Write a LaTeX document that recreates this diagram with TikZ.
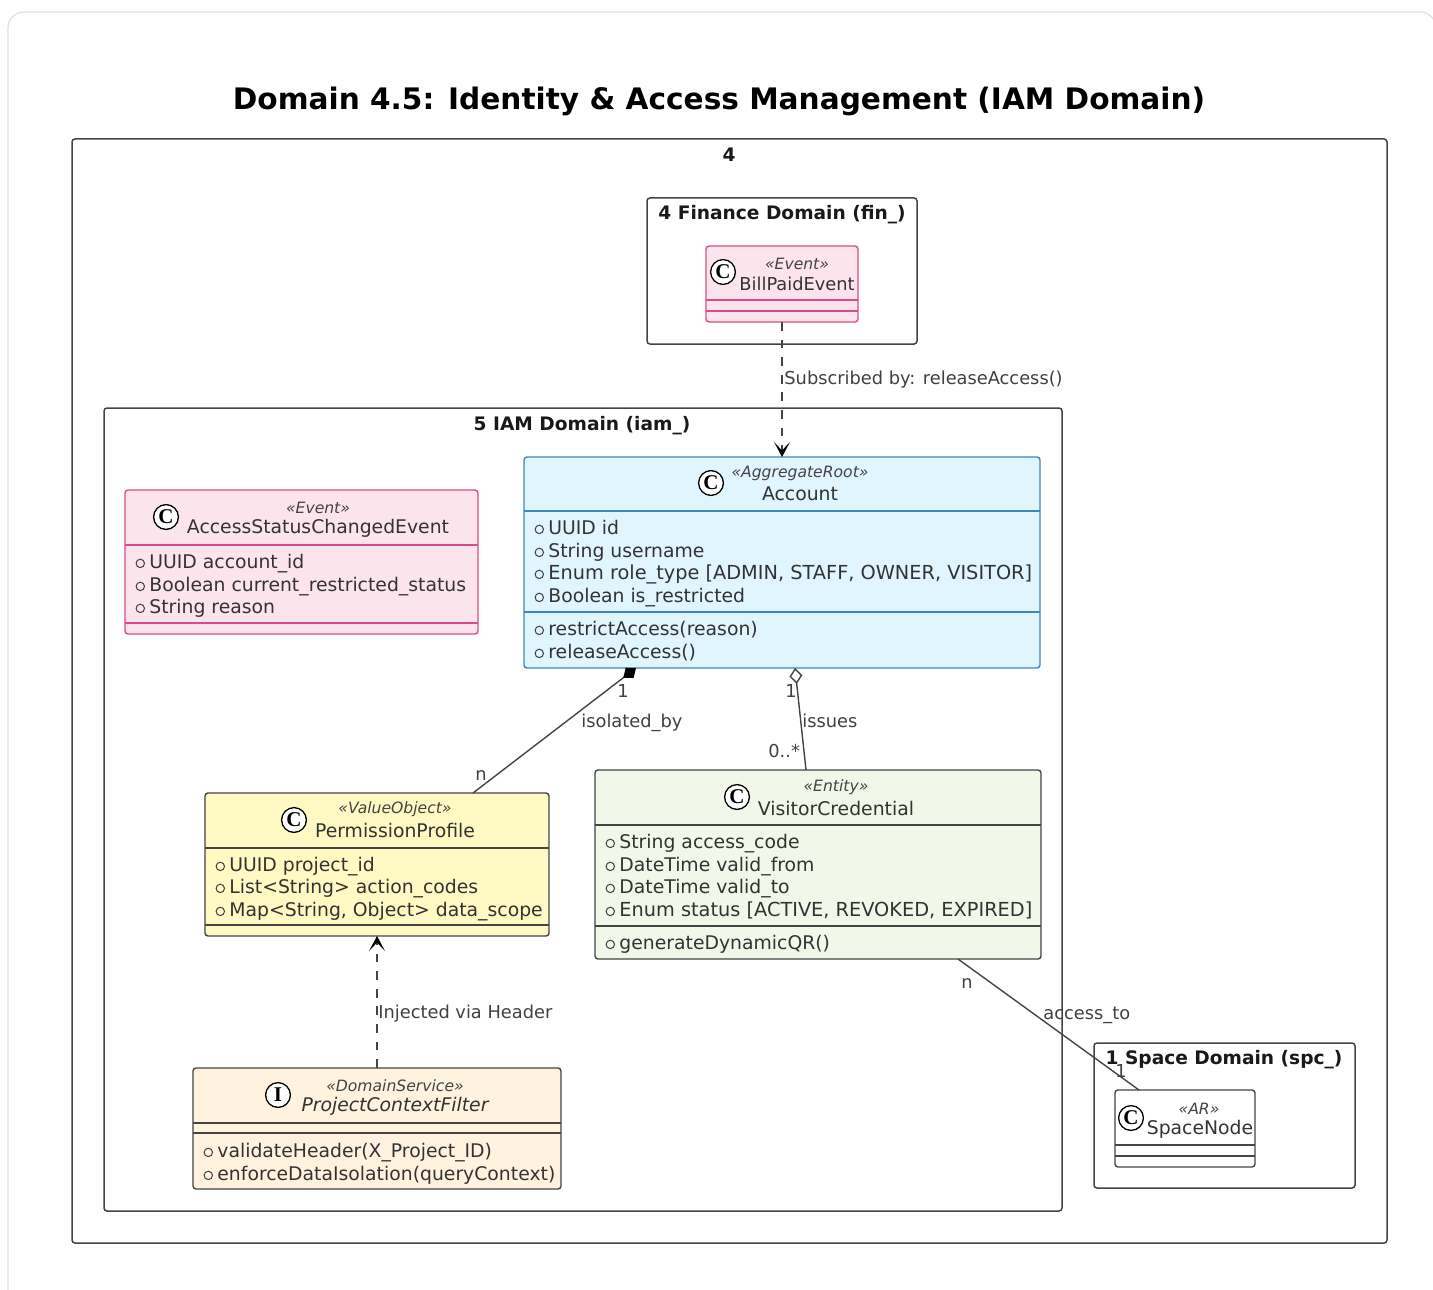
\documentclass[tikz,border=0pt]{standalone}
\usepackage{fontspec}
\setmainfont{DejaVu Sans}
\newfontfamily\badgefont{Liberation Serif}
\usetikzlibrary{arrows.meta}

\definecolor{inkGray}{HTML}{444444}
\definecolor{eventFill}{HTML}{FCE4EC}
\definecolor{eventLine}{HTML}{D84C8C}
\definecolor{rootFill}{HTML}{E1F5FE}
\definecolor{rootLine}{HTML}{3F86BE}
\definecolor{valueFill}{HTML}{FFF9C4}
\definecolor{entityFill}{HTML}{F1F8E9}
\definecolor{serviceFill}{HTML}{FFF3E0}

\tikzset{
        pkgBox/.style = {rectangle, draw = inkGray, line width = 0.75pt, rounded corners = 1.5pt, inner sep = 0pt, outer sep = 0pt, anchor = north west},
        classBox/.style = {pkgBox, line width = 0.7pt},
        pkgTitle/.style = {inner sep = 0pt, text height = 7.4pt, text depth = 2pt, font = \bfseries\fontsize{9.3}{12}\selectfont, text = black!90},
        stereo/.style = {inner sep = 0pt, yshift = -0.3pt, font = \itshape\fontsize{7.8}{9}\selectfont, text = inkGray},
        className/.style = {inner sep = 0pt, font = \fontsize{9.4}{11}\selectfont, text = black!80},
        badge/.style = {circle, draw = black, line width = 0.65pt, fill = white, minimum size = 12.4pt, inner sep = 0pt, font = \badgefont\bfseries\fontsize{10.5}{12}\selectfont},
        member/.style = {anchor = west, inner sep = 0pt, yshift = -0.7pt, text height = 7.2pt, text depth = 2pt, font = \fontsize{9.4}{11}\selectfont, text = black!80,
                label = {[circle, draw = black!75, line width = 0.5pt, minimum size = 4.2pt, inner sep = 0pt, xshift = -2pt]left:{}}},
        edgeText/.style = {anchor = west, inner sep = 0pt, yshift = -1pt, text height = 7pt, text depth = 2pt, font = \fontsize{8.9}{10}\selectfont, text = black!75},
        link/.style = {draw = inkGray, line width = 0.7pt},
        depends/.style = {link, dashed, dash pattern = on 4.4pt off 4.4pt, -{Stealth[length = 7.5pt, width = 8pt, inset = 4.2pt, color = black]}},
}

\begin{document}
\begin{tikzpicture}[x = 0.5pt, y = -0.5pt]
        \clip (0, 0) rectangle (1433, 1289);
        \path[draw = black!12, line width = 0.6pt, rounded corners = 8pt] (8, 12) rectangle (1436, 1310);

        \node[inner sep = 0pt, font = \bfseries\fontsize{14.8}{18}\selectfont] (diagramTitle) at (719, 101) {Domain 4.5: Identity \& Access Management (IAM Domain)};

        % packages
        \node[pkgBox, minimum width = 657.5pt, minimum height = 552pt] (outerPkg) at (72, 139) {};
        \node[pkgTitle] (outerTitle) at (729, 156) {4};
        \node[pkgBox, minimum width = 135pt, minimum height = 73pt] (finPkg) at (647, 198) {};
        \node[pkgTitle] (finTitle) at (782, 214) {4 Finance Domain (fin\_)};
        \node[pkgBox, minimum width = 479pt, minimum height = 401.5pt] (iamPkg) at (104, 408) {};
        \node[pkgTitle] (iamTitle) at (582, 425) {5 IAM Domain (iam\_)};
        \node[pkgBox, minimum width = 130.5pt, minimum height = 72.5pt] (spcPkg) at (1094, 1043) {};
        \node[pkgTitle] (spcTitle) at (1224, 1059) {1 Space Domain (spc\_)};

        % bill paid
        \node[classBox, draw = eventLine, fill = eventFill, minimum width = 76pt, minimum height = 38pt] (billNode) at (706, 246) {};
        \draw[eventLine, line width = 0.65pt] (billNode.west |- 0, 300) -- (billNode.east |- 0, 300);
        \draw[eventLine, line width = 0.65pt] (billNode.west |- 0, 311) -- (billNode.east |- 0, 311);
        \node[badge] (billBadge) at (723, 272) {C};
        \node[stereo] (billStereo) at (797, 263) {«Event»};
        \node[className, font = \fontsize{8.9}{11}\selectfont] (billName) at (797, 284) {BillPaidEvent};

        % access status event
        \node[classBox, draw = eventLine, fill = eventFill, minimum width = 176.5pt, minimum height = 72pt] (statusNode) at (125, 490) {};
        \draw[eventLine, line width = 0.65pt] (statusNode.west |- 0, 545) -- (statusNode.east |- 0, 545);
        \draw[eventLine, line width = 0.65pt] (statusNode.west |- 0, 623) -- (statusNode.east |- 0, 623);
        \node[badge] (statusBadge) at (166, 517) {C};
        \node[stereo] (statusStereo) at (318, 507) {«Event»};
        \node[className] (statusName) at (318, 528) {AccessStatusChangedEvent};
        \node[member] (statusA) at (149, 562) {UUID account\_id};
        \node[member] (statusB) at (149, 585) {Boolean current\_restricted\_status};
        \node[member] (statusC) at (149, 607) {String reason};

        % account
        \node[classBox, draw = rootLine, fill = rootFill, minimum width = 258pt, minimum height = 105.5pt] (accountNode) at (524, 457) {};
        \draw[rootLine, line width = 0.65pt] (accountNode.west |- 0, 511) -- (accountNode.east |- 0, 511);
        \draw[rootLine, line width = 0.65pt] (accountNode.west |- 0, 612) -- (accountNode.east |- 0, 612);
        \node[badge] (accountBadge) at (711, 483) {C};
        \node[stereo] (accountStereo) at (800, 473) {«AggregateRoot»};
        \node[className] (accountName) at (800, 494) {Account};
        \node[member] (accountA) at (548, 528) {UUID id};
        \node[member] (accountB) at (548, 551) {String username};
        \node[member, font = \fontsize{9.66}{11}\selectfont] (accountC) at (548, 573) {Enum role\_type [ADMIN, STAFF, OWNER, VISITOR]};
        \node[member] (accountD) at (548, 596) {Boolean is\_restricted};
        \node[member] (accountE) at (548, 629) {restrictAccess(reason)};
        \node[member] (accountF) at (548, 652) {releaseAccess()};

        % permission profile
        \node[classBox, fill = valueFill, minimum width = 172pt, minimum height = 71.5pt] (profileNode) at (205, 793) {};
        \draw[inkGray, line width = 0.65pt] (profileNode.west |- 0, 848) -- (profileNode.east |- 0, 848);
        \draw[inkGray, line width = 0.65pt] (profileNode.west |- 0, 925) -- (profileNode.east |- 0, 925);
        \node[badge] (profileBadge) at (294, 820) {C};
        \node[stereo] (profileStereo) at (395, 809) {«ValueObject»};
        \node[className] (profileName) at (395, 830) {PermissionProfile};
        \node[member] (profileA) at (229, 865) {UUID project\_id};
        \node[member] (profileB) at (229, 887) {List<String> action\_codes};
        \node[member] (profileC) at (229, 910) {Map<String, Object> data\_scope};

        % visitor credential
        \node[classBox, fill = entityFill, minimum width = 223pt, minimum height = 94.5pt] (visitorNode) at (595, 770) {};
        \draw[inkGray, line width = 0.65pt] (visitorNode.west |- 0, 825) -- (visitorNode.east |- 0, 825);
        \draw[inkGray, line width = 0.65pt] (visitorNode.west |- 0, 926) -- (visitorNode.east |- 0, 926);
        \node[badge] (visitorBadge) at (737, 797) {C};
        \node[stereo] (visitorStereo) at (836, 787) {«Entity»};
        \node[className] (visitorName) at (836, 808) {VisitorCredential};
        \node[member] (visitorA) at (619, 842) {String access\_code};
        \node[member] (visitorB) at (619, 865) {DateTime valid\_from};
        \node[member] (visitorC) at (619, 887) {DateTime valid\_to};
        \node[member, font = \fontsize{9.66}{11}\selectfont] (visitorD) at (619, 910) {Enum status [ACTIVE, REVOKED, EXPIRED]};
        \node[member] (visitorE) at (619, 943) {generateDynamicQR()};

        % context filter
        \node[classBox, fill = serviceFill, minimum width = 184pt, minimum height = 60.5pt] (filterNode) at (193, 1068) {};
        \draw[inkGray, line width = 0.65pt] (filterNode.west |- 0, 1123) -- (filterNode.east |- 0, 1123);
        \draw[inkGray, line width = 0.65pt] (filterNode.west |- 0, 1133) -- (filterNode.east |- 0, 1133);
        \node[badge] (filterBadge) at (278, 1095) {I};
        \node[stereo] (filterStereo) at (395, 1085) {«DomainService»};
        \node[className, font = \itshape\fontsize{9.4}{11}\selectfont] (filterName) at (395, 1106) {ProjectContextFilter};
        \node[member] (filterA) at (217, 1151) {validateHeader(X\_Project\_ID)};
        \node[member] (filterB) at (217, 1174) {enforceDataIsolation(queryContext)};

        % space node
        \node[classBox, minimum width = 70pt, minimum height = 38.5pt] (spaceNode) at (1115, 1090) {};
        \draw[inkGray, line width = 0.65pt] (spaceNode.west |- 0, 1145) -- (spaceNode.east |- 0, 1145);
        \draw[inkGray, line width = 0.65pt] (spaceNode.west |- 0, 1156) -- (spaceNode.east |- 0, 1156);
        \node[badge] (spaceBadge) at (1131, 1118) {C};
        \node[stereo] (spaceStereo) at (1199, 1108) {«AR»};
        \node[className] (spaceName) at (1200, 1129) {SpaceNode};

        % links
        \draw[depends] (billNode) -- (accountNode);
        \draw[depends] (filterNode) -- (profileNode);
        \draw[link, {Diamond[length = 8pt, width = 6.5pt, fill = black, color = black]}-] ([xshift = -73pt]accountNode.south) -- ([xshift = 48pt]profileNode.north);
        \draw[link, {Diamond[open, length = 8pt, width = 6.5pt]}-] ([xshift = 6.5pt]accountNode.south) -- ([xshift = -6pt]visitorNode.north);
        \draw[link] ([xshift = 70pt]visitorNode.south) -- ([xshift = -23pt]spaceNode.north);

        \node[edgeText] (billLabel) at (784, 377) {Subscribed by: releaseAccess()};
        \node[edgeText] (isolatedLabel) at (581, 720) {isolated\_by};
        \node[edgeText] (isolatedOne) at (617, 690) {1};
        \node[edgeText] (isolatedMany) at (475, 773) {n};
        \node[edgeText] (issuesLabel) at (802, 720) {issues};
        \node[edgeText] (issuesOne) at (785, 690) {1};
        \node[edgeText] (issuesMany) at (768, 750) {0..*};
        \node[edgeText] (injectedLabel) at (378, 1011) {Injected via Header};
        \node[edgeText] (accessLabel) at (1043, 1012) {access\_to};
        \node[edgeText] (accessMany) at (961, 981) {n};
        \node[edgeText] (accessOne) at (1115, 1070) {1};
\end{tikzpicture}
\end{document}
